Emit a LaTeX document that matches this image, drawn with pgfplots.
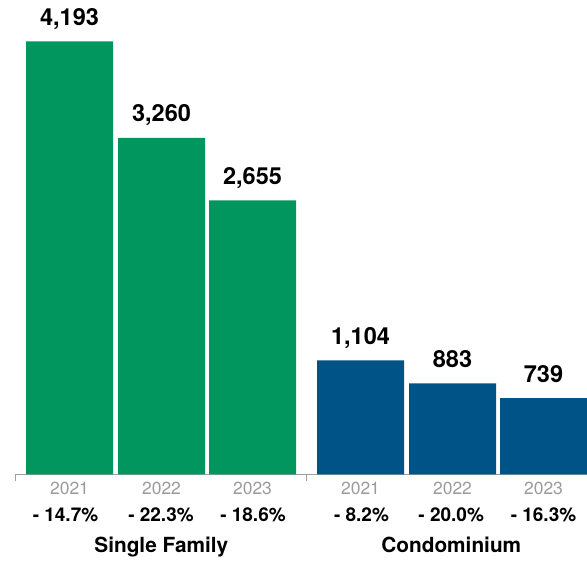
\documentclass[border=0pt]{standalone}
\usepackage{fontspec}
\setmainfont{TeX Gyre Heros}
\usepackage{pgfplots}
\pgfplotsset{compat=1.18}
\definecolor{sfgreen}{RGB}{0,150,94}
\definecolor{condoblue}{RGB}{0,83,135}
\definecolor{axgray}{RGB}{160,160,160}
\definecolor{yeargray}{RGB}{155,155,155}
\begin{document}
\begin{tikzpicture}
\path[use as bounding box] (0,0) rectangle (587pt,561pt);
\begin{axis}[
  at={(15pt,86.5pt)}, anchor=south west,
  x=1pt, y=0.10327pt,
  xmin=15, xmax=587, ymin=0, ymax=4595,
  axis x line=bottom, axis y line=none,
  x axis line style={-, draw=axgray, line width=0.8pt},
  xtick={15,306}, xticklabels={}, tick align=outside, major tick length=7pt,
  tick style={draw=axgray, line width=0.8pt},
  ytick=\empty,
  ybar, bar width=87, bar shift=0pt,
  clip=false,
  nodes near coords,
  nodes near coords style={anchor=base, yshift=16pt, inner sep=0pt, font=\bfseries\fontsize{23.5}{28}\selectfont, text=black},
  /pgf/number format/.cd, 1000 sep={,}, assume math mode=true
]
\addplot[fill=sfgreen, draw=none] coordinates {(69.5,4193) (161.5,3260) (252.5,2655)};
\addplot[fill=condoblue, draw=none] coordinates {(360.5,1104) (452.5,883) (543.5,739)};

\node[anchor=base, inner sep=0pt, text=yeargray, font=\fontsize{17.5}{20}\selectfont] at ([yshift=-20.5pt]axis cs:69.5,0) {2021};
\node[anchor=base, inner sep=0pt, text=yeargray, font=\fontsize{17.5}{20}\selectfont] at ([yshift=-20.5pt]axis cs:161.5,0) {2022};
\node[anchor=base, inner sep=0pt, text=yeargray, font=\fontsize{17.5}{20}\selectfont] at ([yshift=-20.5pt]axis cs:252.5,0) {2023};
\node[anchor=base, inner sep=0pt, text=yeargray, font=\fontsize{17.5}{20}\selectfont] at ([yshift=-20.5pt]axis cs:360.5,0) {2021};
\node[anchor=base, inner sep=0pt, text=yeargray, font=\fontsize{17.5}{20}\selectfont] at ([yshift=-20.5pt]axis cs:452.5,0) {2022};
\node[anchor=base, inner sep=0pt, text=yeargray, font=\fontsize{17.5}{20}\selectfont] at ([yshift=-20.5pt]axis cs:543.5,0) {2023};

\node[anchor=base, inner sep=0pt, font=\bfseries\fontsize{19}{22}\selectfont] at ([yshift=-47.2pt]axis cs:65.5,0) {- 14.7\%};
\node[anchor=base, inner sep=0pt, font=\bfseries\fontsize{19}{22}\selectfont] at ([yshift=-47.2pt]axis cs:161,0) {- 22.3\%};
\node[anchor=base, inner sep=0pt, font=\bfseries\fontsize{19}{22}\selectfont] at ([yshift=-47.2pt]axis cs:253,0) {- 18.6\%};
\node[anchor=base, inner sep=0pt, font=\bfseries\fontsize{19}{22}\selectfont] at ([yshift=-47.2pt]axis cs:361.5,0) {- 8.2\%};
\node[anchor=base, inner sep=0pt, font=\bfseries\fontsize{19}{22}\selectfont] at ([yshift=-47.2pt]axis cs:451.2,0) {- 20.0\%};
\node[anchor=base, inner sep=0pt, font=\bfseries\fontsize{19}{22}\selectfont] at ([yshift=-47.2pt]axis cs:543.5,0) {- 16.3\%};

\node[anchor=base, inner sep=0pt, font=\bfseries\fontsize{20.8}{24}\selectfont] at ([yshift=-78.5pt]axis cs:161.3,0) {Single Family};
\node[anchor=base, inner sep=0pt, font=\bfseries\fontsize{20.8}{24}\selectfont] at ([yshift=-78.5pt]axis cs:451.3,0) {Condominium};
\end{axis}
\end{tikzpicture}
\end{document}
